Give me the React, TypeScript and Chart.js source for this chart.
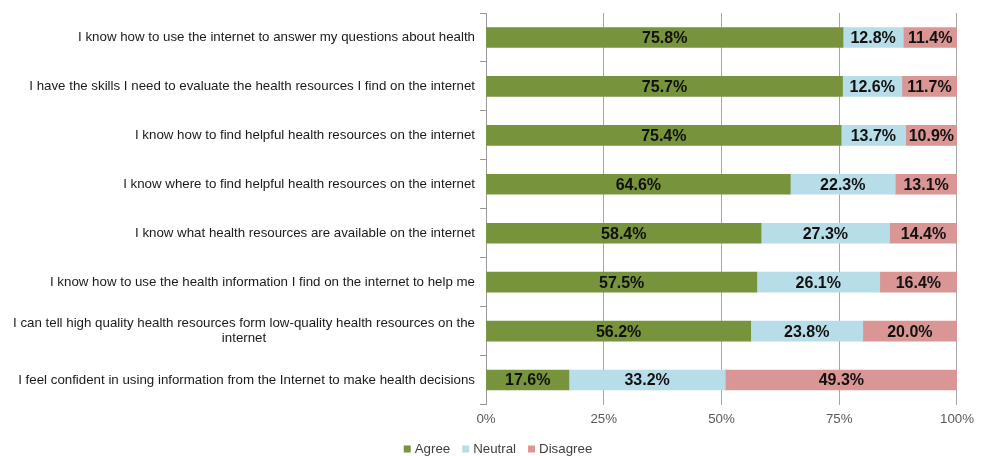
import React, { useEffect, useRef } from "react";
import { Chart, registerables } from "chart.js";

Chart.register(...registerables);

const categories: (string | string[])[] = [
  "I know how to use the internet to answer my questions about health",
  "I have the skills I need to evaluate the health resources I find on the internet",
  "I know how to find helpful health resources on the internet",
  "I know where to find helpful health resources on the internet",
  "I know what health resources are available on the internet",
  "I know how to use the health information I find on the internet to help me",
  ["I can tell high quality health resources form low-quality health resources on the", "internet"],
  "I feel confident in using information from the Internet to make health decisions",
];
const agree = [75.8, 75.7, 75.4, 64.6, 58.4, 57.5, 56.2, 17.6];
const neutral = [12.8, 12.6, 13.7, 22.3, 27.3, 26.1, 23.8, 33.2];
const disagree = [11.4, 11.7, 10.9, 13.1, 14.4, 16.4, 20.0, 49.3];
const seriesNames = ["Agree", "Neutral", "Disagree"];
const seriesColors = ["#77933C", "#B7DEE8", "#D99694"];
const xTicks = [0, 25, 50, 75, 100];

const FONT = "'Liberation Sans', Arial, sans-serif";

const valueLabels = {
  id: "valueLabels",
  afterDatasetsDraw(chart: any) {
    const ctx = chart.ctx;
    ctx.save();
    ctx.font = `bold 16px ${FONT}`;
    ctx.fillStyle = "#111";
    ctx.textAlign = "center";
    ctx.textBaseline = "middle";
    chart.data.datasets.forEach((ds: any, di: number) => {
      const meta = chart.getDatasetMeta(di);
      meta.data.forEach((el: any, i: number) => {
        const p = el.getProps(["x", "y", "base"], true);
        const cx = (p.x + p.base) / 2;
        ctx.fillText(ds.data[i].toFixed(1) + "%", cx, p.y + 1);
      });
    });
    ctx.restore();
  },
};

const categoryLabels = {
  id: "categoryLabels",
  afterDraw(chart: any) {
    const ctx = chart.ctx;
    const y = chart.scales.y;
    const right = chart.chartArea.left - 11;
    ctx.save();
    ctx.font = `13.3px ${FONT}`;
    ctx.fillStyle = "#1a1a1a";
    ctx.textBaseline = "middle";
    categories.forEach((c, i) => {
      const cy = y.getPixelForValue(i);
      if (Array.isArray(c)) {
        const w = Math.max(...c.map((s) => ctx.measureText(s).width));
        const cx = right - w / 2;
        ctx.textAlign = "center";
        const lh = 15;
        const start = cy - ((c.length - 1) * lh) / 2;
        c.forEach((s, k) => ctx.fillText(s, cx, start + k * lh));
      } else {
        ctx.textAlign = "right";
        ctx.fillText(c, right, cy);
      }
    });
    ctx.restore();
  },
};

const bottomLegend = {
  id: "bottomLegend",
  afterDraw(chart: any) {
    const ctx = chart.ctx;
    ctx.save();
    ctx.font = `13.3px ${FONT}`;
    ctx.textBaseline = "middle";
    ctx.textAlign = "left";
    const box = 7;
    const gapText = 4;
    const gapItem = 12;
    const widths = seriesNames.map((n) => box + gapText + ctx.measureText(n).width);
    const total = widths.reduce((a, b) => a + b, 0) + gapItem * (widths.length - 1);
    let x = 498 - total / 2;
    const cy = 449;
    seriesNames.forEach((n, i) => {
      ctx.fillStyle = seriesColors[i];
      ctx.fillRect(x, cy - box / 2, box, box);
      ctx.fillStyle = "#404040";
      ctx.fillText(n, x + box + gapText, cy);
      x += widths[i] + gapItem;
    });
    ctx.restore();
  },
};

export default function App() {
  const ref = useRef<HTMLCanvasElement>(null);
  useEffect(() => {
    if (!ref.current) return;
    const chart = new Chart(ref.current, {
      type: "bar",
      data: {
        labels: categories.map((c) => (Array.isArray(c) ? c.join(" ") : c)),
        datasets: seriesNames.map((n, i) => ({
          label: n,
          data: [agree, neutral, disagree][i],
          backgroundColor: seriesColors[i],
          barThickness: 20,
        })),
      },
      options: {
        indexAxis: "y",
        animation: false,
        responsive: true,
        maintainAspectRatio: false,
        layout: { padding: { top: 13, right: 24, left: 0, bottom: 31.5 } },
        scales: {
          x: {
            stacked: true,
            min: 0,
            max: 100,
            afterBuildTicks: (s: any) => {
              s.ticks = xTicks.map((v) => ({ value: v }));
            },
            afterFit: (s: any) => {
              s.height = 20;
            },
            ticks: {
              callback: (v: any) => v + "%",
              font: { family: FONT, size: 13.3 },
              color: "#595959",
              padding: 7,
            },
            grid: { color: "#a6a6a6", drawTicks: false, lineWidth: 1 },
            border: { display: false },
          },
          y: {
            stacked: true,
            ticks: { display: false },
            grid: {
              offset: true,
              drawOnChartArea: false,
              tickLength: 6,
              color: "#999",
            },
            border: { display: true, color: "#999" },
            afterFit: (s: any) => {
              s.width = 486;
            },
          },
        },
        plugins: {
          legend: { display: false },
          tooltip: { enabled: false },
        },
      },
      plugins: [valueLabels, categoryLabels, bottomLegend],
    });
    return () => chart.destroy();
  }, []);
  return (
    <div style={{ position: "absolute", left: 0, top: 0, width: 981, height: 456, background: "#fff" }}>
      <canvas ref={ref} />
    </div>
  );
}
